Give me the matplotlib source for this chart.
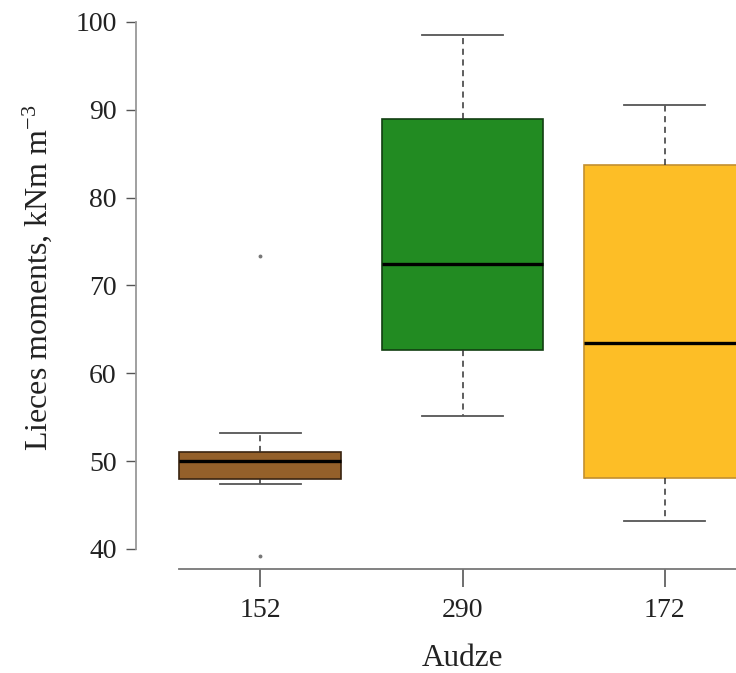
import matplotlib
matplotlib.use("Agg")
import matplotlib.pyplot as plt

plt.rcParams['font.family'] = ['Liberation Serif', 'DejaVu Serif']
plt.rcParams['mathtext.fontset'] = 'custom'
plt.rcParams['mathtext.rm'] = 'Liberation Serif'
plt.rcParams['mathtext.it'] = 'Liberation Serif'

# values
groups = ['152', '290', '172']
whislo = [47.4, 55.1, 43.2]
q1 = [48.0, 62.7, 48.05]
med = [50.0, 72.45, 63.5]
q3 = [51.0, 88.9, 83.7]
whishi = [53.2, 98.5, 90.5]
fliers = [[39.2, 73.4], [], []]

face_colors = ['#94602a', '#228b22', '#fdbe26']
edge_colors = ['#3a2410', '#123f12', '#c39030']

stats = []
for i, g in enumerate(groups):
    stats.append(dict(label=g, whislo=whislo[i], q1=q1[i], med=med[i],
                      q3=q3[i], whishi=whishi[i], fliers=fliers[i]))

fig = plt.figure(figsize=(7.36, 6.73), dpi=100)
ax = fig.add_axes([136 / 736, 104 / 673, 600 / 736, 569 / 673])

bp = ax.bxp(stats, positions=[1, 2, 3], widths=0.8, capwidths=0.4,
            patch_artist=True, showfliers=True,
            whiskerprops=dict(color='#333333', linestyle=(0, (4, 3)), linewidth=1.1),
            capprops=dict(color='#555555', linewidth=1.3),
            medianprops=dict(color='black', linewidth=2.4),
            flierprops=dict(marker='o', markersize=1.8, markerfacecolor='#777777',
                            markeredgecolor='#777777'))
for patch, fc, ec in zip(bp['boxes'], face_colors, edge_colors):
    patch.set_facecolor(fc)
    patch.set_edgecolor(ec)
    patch.set_linewidth(1.2)

ax.set_xlim(0.386, 3.3515)
ax.set_ylim(37.72, 102.5)

ax.spines['top'].set_visible(False)
ax.spines['right'].set_visible(False)
ax.spines['left'].set_bounds(40, 100)
ax.spines['left'].set_color('#999999')
ax.spines['left'].set_linewidth(1.3)
ax.spines['bottom'].set_bounds(0.6, 3.5)
ax.spines['bottom'].set_color('#777777')
ax.spines['bottom'].set_linewidth(1.3)

ax.set_yticks([40, 50, 60, 70, 80, 90, 100])
ax.tick_params(axis='y', length=7, width=1, color='#555555', pad=7, labelsize=20,
               labelcolor='#222222')
ax.tick_params(axis='x', length=13, width=1.2, color='#555555', pad=8, labelsize=20,
               labelcolor='#222222')

ax.set_xlabel('Audze', fontsize=22.5, color='#222222')
ax.xaxis.set_label_coords((462 - 136) / 600, (569 - 658) / 569)
ax.xaxis.label.set_va('center')
ax.set_ylabel('Lieces moments, kNm m$^{-3}$', fontsize=23, color='#222222')
ax.yaxis.set_label_coords((37 - 136) / 600, (569 - 278) / 569)
ax.yaxis.label.set_va('center')

fig.savefig('out.png', dpi=100)
